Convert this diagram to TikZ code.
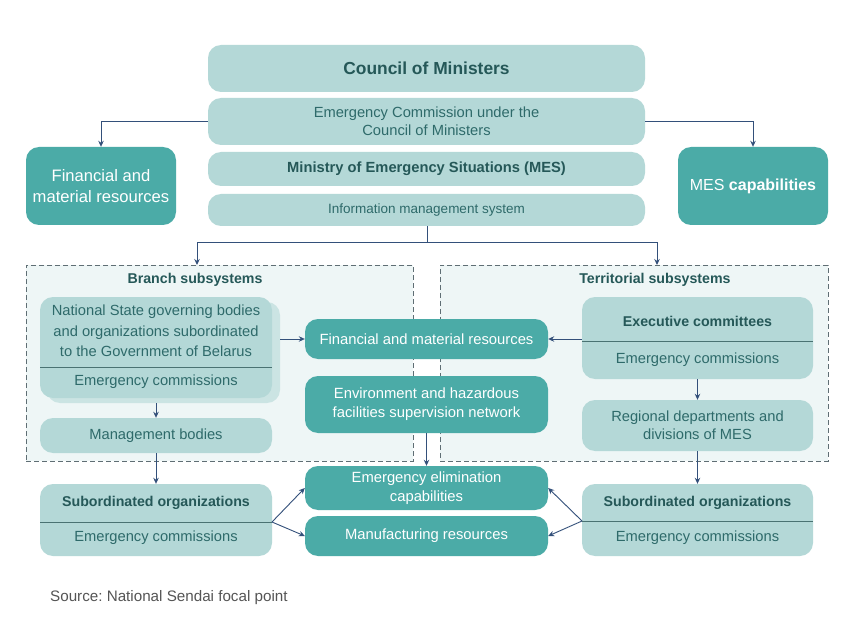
\documentclass[tikz,border=0pt]{standalone}
\usepackage{fontspec}
\setmainfont{Liberation Sans}
\usetikzlibrary{arrows.meta}
\definecolor{lightc}{HTML}{B4D8D7}
\definecolor{shadc}{HTML}{CBE4E3}
\definecolor{darkc}{HTML}{4BABA7}
\definecolor{bgc}{HTML}{EEF6F6}
\definecolor{dashc}{HTML}{5F6E74}
\definecolor{txtc}{HTML}{2E6A6A}
\definecolor{boldc}{HTML}{255858}
\definecolor{arrc}{HTML}{33507A}
\definecolor{divc}{HTML}{4A7272}
\definecolor{srcc}{HTML}{555555}
\frenchspacing
\begin{document}
\begin{tikzpicture}[x=1pt,y=-1pt,
  lbox/.style={fill=lightc, rounded corners=13pt, inner sep=0pt, text=txtc, align=center, font=\fontsize{14.7}{18}\selectfont},
  sbox/.style={fill=shadc, rounded corners=13pt, inner sep=0pt},
  dbox/.style={fill=darkc, rounded corners=13pt, inner sep=0pt, text=white, align=center, font=\fontsize{14.8}{19}\selectfont},
  dashbox/.style={fill=bgc, draw=dashc, dash pattern=on 5pt off 3pt, line width=0.7pt, inner sep=0pt},
  lbl/.style={text=txtc, align=center, inner sep=0pt, font=\fontsize{14.7}{20.5}\selectfont},
  ttl/.style={text=boldc, align=center, inner sep=0pt, font=\fontsize{14.2}{17}\selectfont\bfseries},
  arr/.style={draw=arrc, line width=0.9pt, -{Stealth[length=6pt,width=5.5pt]}},
  divline/.style={draw=divc, line width=1pt}
]
\useasboundingbox (0,0) rectangle (863,623);
\fill[white] (0,0) rectangle (863,623);

% top stack
\node[lbox, minimum width=437pt, minimum height=47pt, font=\fontsize{17.4}{20}\selectfont\bfseries, text=boldc] (council) at (426.5,68.5) {Council of Ministers};
\node[lbox, minimum width=437pt, minimum height=47pt] (com) at (426.5,121.5) {Emergency Commission under the\\Council of Ministers};
\node[lbox, minimum width=437pt, minimum height=34pt, font=\fontsize{14.7}{17}\selectfont\bfseries, text=boldc] (mes) at (426.5,169) {Ministry of Emergency Situations (MES)};
\node[lbox, minimum width=437pt, minimum height=32pt, font=\fontsize{13.5}{15}\selectfont] (info) at (426.5,210) {Information management system};

\node[dbox, minimum width=150pt, minimum height=78pt, font=\fontsize{16.6}{21}\selectfont] (finL) at (101,186) {Financial and\\material resources};
\node[dbox, minimum width=150pt, minimum height=78pt, font=\fontsize{16}{20}\selectfont] (mesc) at (753,186) {MES \textbf{capabilities}};

\draw[arr] (com.west) -| (finL.north);
\draw[arr] (com.east) -| (mesc.north);

% dashed subsystem boxes
\node[dashbox, minimum width=387pt, minimum height=196pt] (branch) at (219.5,363) {};
\node[dashbox, minimum width=388pt, minimum height=196pt] (terr) at (634,363) {};
\node[ttl] (branchT) at (195,280) {Branch subsystems};
\node[ttl] (terrT) at (655,280) {Territorial subsystems};

\coordinate (j) at (427.5,242);
\coordinate (bt) at (197,265);
\coordinate (tt) at (657,265);
\draw[arr] (info.south -| j) -- (j) -| (bt);
\draw[arr] (j) -| (tt);

% branch side
\node[sbox, minimum width=233pt, minimum height=101pt] (natS) at (163.5,352.5) {};
\node[lbox, minimum width=232pt, minimum height=101pt] (nat) at (156,347.5) {};
\node[lbl] (nat1) at (156,331) {National State governing bodies\\and organizations subordinated\\to the Government of Belarus};
\node[lbl] (nat2) at (156,382) {Emergency commissions};
\coordinate (natdl) at (40,367);
\coordinate (natdr) at (272,367);
\draw[divline] (natdl) -- (natdr);

\node[lbox, minimum width=232pt, minimum height=35pt] (mgmt) at (156,435.5) {Management bodies};
\draw[arr] (natS.south -| nat.south) -- (mgmt.north);

% territorial side
\node[lbox, minimum width=231pt, minimum height=82pt] (exec) at (697.5,338) {};
\node[ttl] (exec1) at (697.5,321) {Executive committees};
\node[lbl] (exec2) at (697.5,360) {Emergency commissions};
\coordinate (exdl) at (582,341);
\coordinate (exdr) at (813,341);
\draw[divline] (exdl) -- (exdr);

\node[lbox, minimum width=231pt, minimum height=51pt] (reg) at (697.5,425.5) {Regional departments and\\divisions of MES};
\draw[arr] (exec.south) -- (reg.north);

% center column
\node[dbox, minimum width=243pt, minimum height=40pt] (finC) at (426.5,339) {Financial and material resources};
\node[dbox, minimum width=243pt, minimum height=57pt] (env) at (426.5,404.5) {Environment and hazardous\\facilities supervision network};
\node[dbox, minimum width=243pt, minimum height=44pt] (elim) at (426.5,488) {Emergency elimination\\capabilities};
\node[dbox, minimum width=243pt, minimum height=40pt] (manu) at (426.5,536) {Manufacturing resources};

\draw[arr] (natS.east |- finC.west) -- (finC.west);
\draw[arr] (exec.west |- finC.east) -- (finC.east);
\draw[arr] (env.south) -- (elim.north);

% subordinated organizations
\node[lbox, minimum width=232pt, minimum height=72pt] (subL) at (156,520) {};
\node[ttl] (subL1) at (156,503) {Subordinated organizations};
\node[lbl] (subL2) at (156,538) {Emergency commissions};
\coordinate (sLl) at (40,522);
\coordinate (sLd) at (272,522);
\draw[divline] (sLl) -- (sLd);

\node[lbox, minimum width=231pt, minimum height=72pt] (subR) at (697.5,520) {};
\node[ttl] (subR1) at (697.5,503) {Subordinated organizations};
\node[lbl] (subR2) at (697.5,538) {Emergency commissions};
\coordinate (sRd) at (582,521);
\coordinate (sRr) at (813,521);
\draw[divline] (sRd) -- (sRr);

\draw[arr] (mgmt.south) -- (subL.north);
\draw[arr] (reg.south) -- (subR.north);

\draw[arr] (sLd) -- (elim.west);
\draw[arr] (sLd) -- (manu.west);
\draw[arr] (sRd) -- (elim.east);
\draw[arr] (sRd) -- (manu.east);

\node[anchor=west, text=srcc, inner sep=0pt, font=\fontsize{15.2}{17}\selectfont] (src) at (50,598) {Source: National Sendai focal point};
\end{tikzpicture}
\end{document}
